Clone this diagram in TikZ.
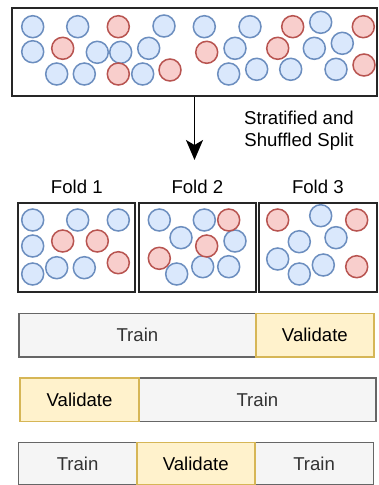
\documentclass[tikz,border=0pt]{standalone}
\usepackage{fontspec}
\setmainfont{Liberation Sans}
\usetikzlibrary{arrows.meta}
\definecolor{bfill}{HTML}{DAE8FC}
\definecolor{bdraw}{HTML}{6C8EBF}
\definecolor{rfill}{HTML}{F8CECC}
\definecolor{rdraw}{HTML}{B85450}
\definecolor{gfill}{HTML}{F5F5F5}
\definecolor{gdraw}{HTML}{666666}
\definecolor{yfill}{HTML}{FFF2CC}
\definecolor{ydraw}{HTML}{D6B656}
\definecolor{tgray}{HTML}{333333}
\begin{document}
\begin{tikzpicture}[x=1pt,y=-1pt,
  bc/.style={circle,draw=bdraw,fill=bfill,line width=1.5pt,minimum size=22pt,inner sep=0pt},
  rc/.style={circle,draw=rdraw,fill=rfill,line width=1.5pt,minimum size=22pt,inner sep=0pt},
  frame/.style={draw=black!85,line width=2pt,fill=white,inner sep=0pt,anchor=north west},
  lbl/.style={font=\fontsize{18.6}{22}\selectfont,text=black},
  trainbox/.style={draw=gdraw,fill=gfill,line width=1.5pt,anchor=north west,inner sep=0pt,font=\fontsize{18.6}{22}\selectfont,text=tgray},
  valbox/.style={draw=ydraw,fill=yfill,line width=1.5pt,anchor=north west,inner sep=0pt,font=\fontsize{18.6}{22}\selectfont,text=black},
]
\useasboundingbox (0,0) rectangle (378,485);
% top box
\node[frame,minimum width=365pt,minimum height=88pt] (top) at (11,7) {};
\foreach \x/\y [count=\i] in {32.7/26.7,77.7/26.7,164/26,204.3/26.7,250/26.7,320.7/22.3,
  32.7/51.7,97.3/52.3,120.7/52.3,148.7/48.3,235/48.3,314.3/48.3,342.3/43.3,
  56.7/74,84.3/74,142.7/74,228.7/74,256.7/69.3,290.7/69.3,336/69.3}
  \node[bc] (tb\i) at (\x,\y) {};
\foreach \x/\y [count=\i] in {118.3/26.7,292.7/26.7,363.3/26.7,62.7/48.3,206.7/52.3,277.7/48.3,
  118.3/74,170/70,364/65}
  \node[rc] (tr\i) at (\x,\y) {};
% arrow
\coordinate (arrend) at (top.south |- 0,160);
\draw[line width=1.5pt,-{Stealth[width=17pt,length=20pt,inset=5pt]}] (top.south) -- (arrend);
\node[lbl,align=center] (split) at (299,131) {Stratified and\\Shuffled Split};
% folds
\node[frame,minimum width=117pt,minimum height=88.5pt] (f1) at (17.3,202.3) {};
\node[frame,minimum width=117.3pt,minimum height=88.5pt] (f2) at (137.7,202.3) {};
\node[frame,minimum width=118.3pt,minimum height=88.5pt] (f3) at (257.7,202.3) {};
\node[lbl] (l1) at (f1.north |- 0,186.5) {Fold 1};
\node[lbl] (l2) at (f2.north |- 0,186.5) {Fold 2};
\node[lbl] (l3) at (f3.north |- 0,186.5) {Fold 3};
% fold 1
\foreach \x/\y [count=\i] in {32.7/220,77.7/220,118.3/220,32.7/246,32.7/274,56.7/267.7,84.3/267.7}
  \node[bc] (fa\i) at (\x,\y) {};
\foreach \x/\y [count=\i] in {62.7/241,97.3/241,118.3/262.7}
  \node[rc] (fr\i) at (\x,\y) {};
% fold 2
\foreach \x/\y [count=\i] in {159.3/220,204.3/220,181/237.7,235/241,176.7/274,202.7/266.7,228.7/266.7}
  \node[bc] (ga\i) at (\x,\y) {};
\foreach \x/\y [count=\i] in {228.7/220,206.7/246,159.3/258.3}
  \node[rc] (gr\i) at (\x,\y) {};
% fold 3
\foreach \x/\y [count=\i] in {320.7/215.7,299.3/241.7,336/237.7,277.7/259,299.3/274,323.3/265}
  \node[bc] (ha\i) at (\x,\y) {};
\foreach \x/\y [count=\i] in {277.7/220,356.7/220,356.7/266.7}
  \node[rc] (hr\i) at (\x,\y) {};
% bar 1
\node[trainbox,minimum width=236.7pt,minimum height=43.3pt] (b1t) at (18.3,312.7) {Train};
\node[valbox,minimum width=118.3pt,minimum height=43.3pt] (b1v) at (255,312.7) {Validate};
% bar 2
\node[trainbox,minimum width=236.7pt,minimum height=43.3pt] (b2t) at (138.3,377.3) {Train};
\node[valbox,minimum width=119pt,minimum height=43.3pt] (b2v) at (19.3,377.3) {Validate};
% bar 3
\node[trainbox,minimum width=118.3pt,minimum height=42pt] (b3a) at (17.7,441.7) {Train};
\node[trainbox,minimum width=118.7pt,minimum height=42pt] (b3c) at (254,441.7) {Train};
\node[valbox,minimum width=118pt,minimum height=42pt] (b3v) at (136,441.7) {Validate};
\end{tikzpicture}
\end{document}
